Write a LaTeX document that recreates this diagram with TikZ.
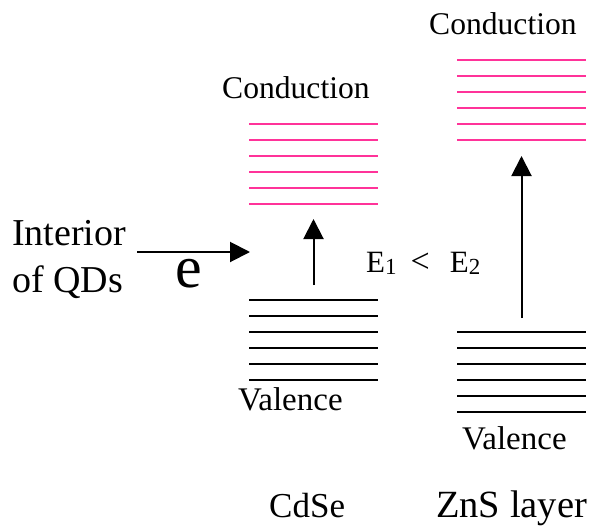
\documentclass[tikz,border=0pt]{standalone}
\usepackage{fontspec}
\setmainfont{Liberation Serif}
\usetikzlibrary{arrows.meta}
\definecolor{condpink}{HTML}{FF3399}
\tikzset{
  condline/.style={draw=condpink, line width=2pt},
  valline/.style={draw=black, line width=2pt},
  lbl/.style={inner sep=0pt, anchor=base west},
  excite/.style={line width=2pt, -{Triangle[length=20pt,width=20pt]}}
}
\newcommand{\fs}[1]{\fontsize{#1}{#1}\selectfont}
\newcommand{\lowsub}[1]{\raisebox{-2pt}{\fs{23}#1}}
\begin{document}
\begin{tikzpicture}[x=1pt,y=-1pt]
  \useasboundingbox (0,0) rectangle (594,527);
  % CdSe energy levels
  \foreach \y in {124,140,...,204} \draw[condline] (249,\y) -- (378,\y);
  \foreach \y in {300,316,...,380} \draw[valline] (249,\y) -- (378,\y);
  % ZnS energy levels
  \foreach \y in {60,76,...,140} \draw[condline] (457,\y) -- (586,\y);
  \foreach \y in {332,348,...,412} \draw[valline] (457,\y) -- (586,\y);

  % labels
  \node[lbl] (condA) at (222,98) {\fs{31.6}Conduction};
  \node[lbl] (condB) at (429,35) {\fs{31.6}Conduction};
  \node[lbl] (valA) at (238,410) {\fs{33}Valence};
  \node[lbl] (valB) at (462,449) {\fs{33}Valence};
  \node[lbl] (cdse) at (269,517) {\fs{35}CdSe};
  \node[lbl] (zns) at (436,517) {\fs{38.5}ZnS layer};
  \node[lbl] (interior) at (12,245) {\fs{38}Interior};
  \node[lbl] (qds) at (12,292) {\fs{38}of QDs};
  \node[lbl] (elec) at (175,287) {\fs{60}e};
  \node[lbl] (gap) at (366,272) {\fs{31}E\lowsub{1}\hspace{14pt}{\fs{34}<}\hspace{20pt}E\lowsub{2}};

  % arrows
  \coordinate (inS) at (137,252);
  \coordinate (inE) at (250,252);
  \coordinate (aS) at (313.5,285);
  \coordinate (aE) at (313.5,219);
  \coordinate (bS) at (521.5,318);
  \coordinate (bE) at (521.5,156);
  \draw[excite] (inS) -- (inE);
  \draw[excite] (aS) -- (aE);
  \draw[excite] (bS) -- (bE);
\end{tikzpicture}
\end{document}
